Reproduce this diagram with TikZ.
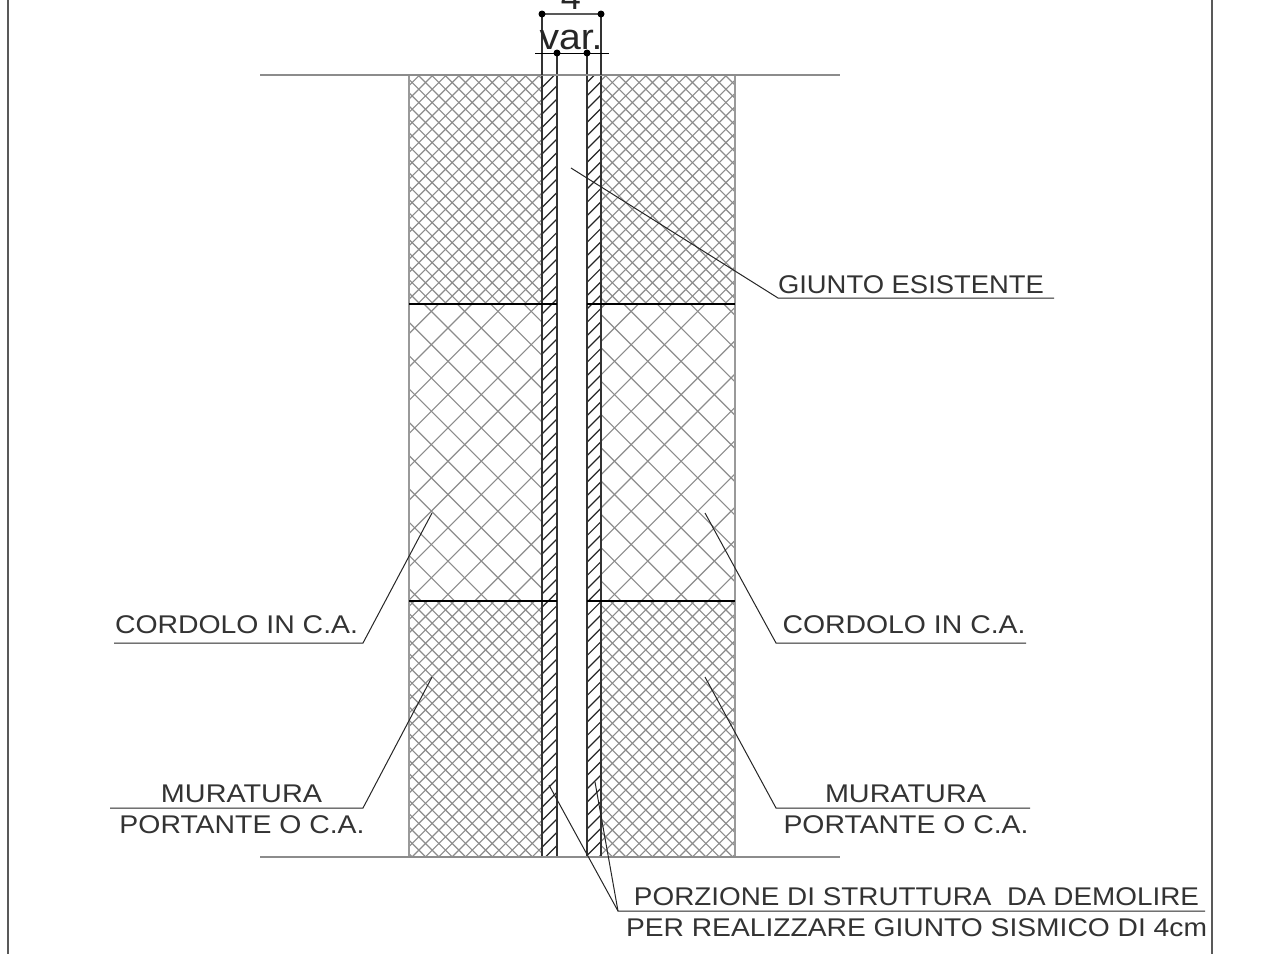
\documentclass[tikz,border=0pt]{standalone}
\usepackage{graphicx}
\usepackage{fontspec}
\setmainfont{Liberation Sans}
\definecolor{hatchgray}{gray}{0.55}
\newcommand{\fitw}[2]{\resizebox{#1pt}{\height}{#2}}
\tikzset{
  px/.style={x=1pt,y=-1pt},
  lbl/.style={inner sep=0pt,anchor=base,font=\fontsize{25.6}{26}\selectfont,text=black!80},
  dimlbl/.style={inner sep=0pt,anchor=base,font=\fontsize{36}{36}\selectfont,text=black!85},
  leader/.style={draw=black!85,line width=1pt},
  fine/.style={draw=hatchgray,line width=1.15pt},
  coarse/.style={draw=hatchgray,line width=1.15pt},
  beam/.style={draw=black,line width=1.2pt},
  strip/.style={draw=black!80,line width=1.4pt},
  stripdiag/.style={draw=black!85,line width=1.2pt},
  dimdot/.style={circle,fill=black,inner sep=0pt,minimum size=7pt},
  dimline/.style={draw=black!65,line width=1.1pt}
}
\begin{document}
\begin{tikzpicture}[px]
\useasboundingbox (0,0) rectangle (1261,954);
\fill[white] (0,0) rectangle (1261,954);
% frame
\draw[draw=black!65,line width=1.1pt] (8,0) -- (8,954);
\draw[draw=black!65,line width=1.1pt] (1212,0) -- (1212,954);
% fine hatch
\begin{scope}
\clip (409,75) rectangle (542,304) (601,75) rectangle (735,304) (409,601) rectangle (542,857) (601,601) rectangle (735,857);
\foreach \k in {-3,...,85}{
  \pgfmathsetmacro{\s}{508+\k*13.35}
  \draw[fine] ({\s-1000},1000) -- (\s,0);
}
\foreach \k in {-60,...,30}{
  \pgfmathsetmacro{\d}{343+\k*13.35}
  \draw[fine] (\d,0) -- ({\d+1000},1000);
}
\end{scope}
% coarse hatch
\begin{scope}
\clip (409,304) rectangle (542,601) (601,304) rectangle (735,601);
\foreach \k in {-3,...,20}{
  \pgfmathsetmacro{\s}{776+\k*33.3}
  \draw[coarse] ({\s-1000},1000) -- (\s,0);
}
\foreach \k in {-10,...,20}{
  \pgfmathsetmacro{\d}{120+\k*33.3}
  \draw[coarse] (\d,0) -- ({\d+1000},1000);
}
\end{scope}
% block edges
\draw[draw=black!40,line width=1.1pt] (409,75) -- (409,857);
\draw[draw=black!40,line width=1.1pt] (735,75) -- (735,857);
% strip hatch
\begin{scope}
\clip (542,75) rectangle (557,857) (587,75) rectangle (601,857);
\foreach \k in {-30,...,50}{
  \pgfmathsetmacro{\s}{976+\k*13.33}
  \draw[stripdiag] (530,{\s-530}) -- (610,{\s-610});
}
\end{scope}
% strips
\foreach \xa in {542,557,587,601}{
  \draw[strip] (\xa,53) -- (\xa,857);
}
% top/bottom
\draw[draw=black!45,line width=1.2pt] (260,75) -- (840,75);
\draw[draw=black!45,line width=1.2pt] (260,857) -- (840,857);
% beams
\draw[beam] (409,304) -- (557,304) (587,304) -- (735,304);
\draw[beam] (409,601) -- (557,601) (587,601) -- (735,601);
% dimensions
\coordinate (da) at (542,14);
\coordinate (db) at (601,14);
\coordinate (dc) at (557,53);
\coordinate (dd) at (587,53);
\draw[strip] (da) -- (542,75) (db) -- (601,75);
\draw[dimline] (da) -- (db);
\draw[draw=black,line width=.9pt] (535,53) -- (609,53);
\node[dimdot] at (da) {};
\node[dimdot] at (db) {};
\node[dimdot] at (dc) {};
\node[dimdot] at (dd) {};
\node[dimlbl] (four) at (571,9) {4};
\node[dimlbl] (var) at (571,49) {\fitw{63}{var.}};
% labels
\node[lbl] (giunto) at (911,293) {\fitw{266}{GIUNTO ESISTENTE}};
\node[lbl] (cl) at (236.5,633) {\fitw{243}{CORDOLO IN C.A.}};
\node[lbl] (cr) at (904,633) {\fitw{243}{CORDOLO IN C.A.}};
\node[lbl] (ml1) at (241.5,802) {\fitw{161}{MURATURA}};
\node[lbl] (ml2) at (242,833) {\fitw{245}{PORTANTE O C.A.}};
\node[lbl] (mr1) at (905.5,802) {\fitw{161}{MURATURA}};
\node[lbl] (mr2) at (906,833) {\fitw{245}{PORTANTE O C.A.}};
\node[lbl] (p1) at (916.5,905) {\fitw{565}{PORZIONE DI STRUTTURA\ \ DA DEMOLIRE}};
\node[lbl] (p2) at (916.5,936) {\fitw{581}{PER REALIZZARE GIUNTO SISMICO DI 4cm}};
% leaders
\draw[leader] (571,168) -- (778,298) -- (1054,298);
\draw[leader] (432,513) -- (363,643) -- (114,643);
\draw[leader] (705,513) -- (776,643) -- (1026,643);
\draw[leader] (432,677) -- (363,808) -- (110,808);
\draw[leader] (705,677) -- (776,808) -- (1030,808);
\draw[leader] (549,785) -- (618,911) -- (1205,911);
\draw[leader] (595,782) -- (618,911);
\end{tikzpicture}
\end{document}
